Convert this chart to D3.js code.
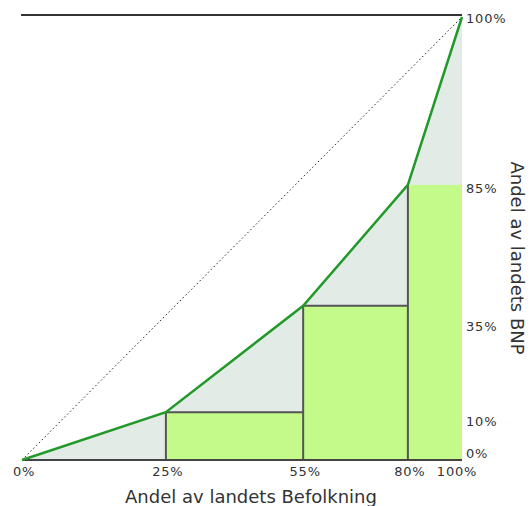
<!DOCTYPE html>
<html><head><meta charset="utf-8">
<script src="https://cdn.jsdelivr.net/npm/d3@7"></script>
<style>body{margin:0;background:#fff}svg{display:block;font-family:"DejaVu Sans",Verdana,sans-serif}</style>
</head><body><svg id="c" width="532" height="506"></svg>
<script>
const popCum = [0, 25, 55, 80, 100];
const gdpCum = [0, 10, 35, 85, 100];
const xTickLabels = ["0%", "25%", "55%", "80%", "100%"];
const yTickLabels = ["0%", "10%", "35%", "85%", "100%"];
const xTitle = "Andel av landets Befolkning";
const yTitle = "Andel av landets BNP";

const svg = d3.select("#c");
const L = 22, R = 462, B = 460, T = 17;
const xFrac = [0, 0.327, 0.639, 0.877, 1];
const yFrac = [0, 0.108, 0.348, 0.621, 1];
const x = d3.scaleLinear().domain(popCum).range(xFrac.map(f => L + f * (R - L)));
const y = d3.scaleLinear().domain(gdpCum).range(yFrac.map(f => B - f * (B - T)));
const pts = popCum.map((p, i) => [p, gdpCum[i]]);

// area under Lorenz curve
svg.append("path")
  .attr("d", d3.area().x(d => x(d[0])).y0(y(0)).y1(d => y(d[1]))(pts))
  .attr("fill", "#e3ebe7");

// bars
const bars = d3.range(1, popCum.length - 1).map(i => ({x0: popCum[i], x1: popCum[i + 1], v: gdpCum[i], i}));
svg.selectAll("rect.bar").data(bars).join("rect")
  .attr("x", d => x(d.x0)).attr("width", d => x(d.x1) - x(d.x0))
  .attr("y", d => y(d.v)).attr("height", d => y(0) - y(d.v))
  .attr("fill", "#c4fa8a");

// bar outlines: left edges up to curve, tops
svg.selectAll("line.v").data(bars).join("line")
  .attr("x1", d => x(d.x0)).attr("x2", d => x(d.x0))
  .attr("y1", y(0)).attr("y2", d => y(d.v))
  .attr("stroke", "#555").attr("stroke-width", 2);
svg.selectAll("line.h").data(bars.slice(0, -1)).join("line")
  .attr("x1", d => x(d.x0)).attr("x2", d => x(d.x1))
  .attr("y1", d => y(d.v)).attr("y2", d => y(d.v))
  .attr("stroke", "#555").attr("stroke-width", 2);

// equality diagonal
svg.append("line")
  .attr("x1", x(0)).attr("y1", y(0)).attr("x2", x(100)).attr("y2", y(100))
  .attr("stroke", "#222").attr("stroke-width", 1).attr("stroke-dasharray", "1.5,2.5");

// top line
svg.append("line")
  .attr("x1", x(0) - 1).attr("x2", x(100)).attr("y1", y(100) - 2).attr("y2", y(100) - 2)
  .attr("stroke", "#333").attr("stroke-width", 2);

// bottom axis line
svg.append("line")
  .attr("x1", x(0)).attr("x2", x(100)).attr("y1", y(0)).attr("y2", y(0))
  .attr("stroke", "#444").attr("stroke-width", 2);

// Lorenz curve
svg.append("path")
  .attr("d", d3.line().x(d => x(d[0])).y(d => y(d[1]))(pts))
  .attr("fill", "none").attr("stroke", "#22992a").attr("stroke-width", 2.5);

// x tick labels
svg.selectAll("text.xt").data(popCum).join("text")
  .attr("x", (d, i) => x(d) + (i === popCum.length - 1 ? -5 : 2))
  .attr("y", 476).attr("text-anchor", "middle")
  .attr("font-size", 13).attr("letter-spacing", 0.8).attr("fill", "#333")
  .text((d, i) => xTickLabels[i]);

// y tick labels (right)
const yNudge = [-7, 9, 21, 4, 1];
svg.selectAll("text.yt").data(gdpCum).join("text")
  .attr("x", R + 4)
  .attr("y", (d, i) => y(d) + yNudge[i])
  .attr("dy", "0.35em")
  .attr("font-size", 13).attr("letter-spacing", 0.8).attr("fill", "#333")
  .text((d, i) => yTickLabels[i]);

// titles
svg.append("text").attr("x", 251).attr("y", 503).attr("text-anchor", "middle")
  .attr("font-size", 18).attr("fill", "#333").text(xTitle);
svg.append("text").attr("transform", "translate(511,258) rotate(90)")
  .attr("text-anchor", "middle")
  .attr("font-size", 18).attr("fill", "#333").text(yTitle);
</script></body></html>
